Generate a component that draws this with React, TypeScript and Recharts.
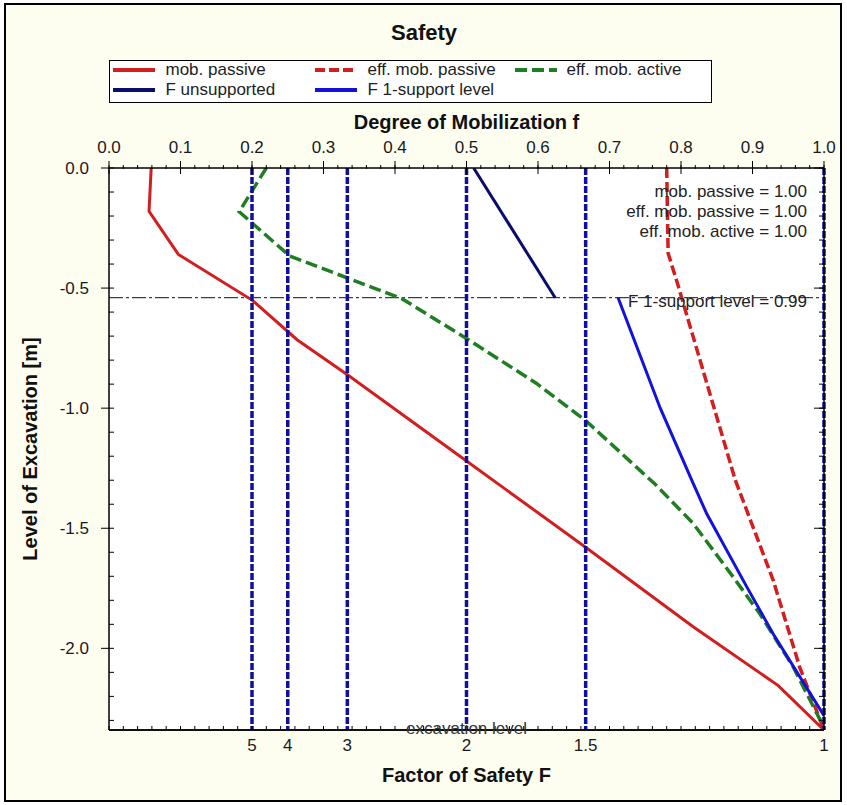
import React from 'react';
import { LineChart, Line, XAxis, YAxis, ReferenceLine, Legend } from 'recharts';

const FONT = '"Liberation Sans", Arial, Helvetica, sans-serif';

// ---- axis tick labels ----
const mobilizationTicks = [0, 0.1, 0.2, 0.3, 0.4, 0.5, 0.6, 0.7, 0.8, 0.9, 1.0];
const levelTicks = [0, -0.5, -1.0, -1.5, -2.0];
const factorTicks = [5, 4, 3, 2, 1.5, 1];

// ---- levels ----
const excavationLevel = -2.34;
const supportLevel = -0.54;
const supportFactor = 0.99;

// ---- text annotations ----
const chartTitle = 'Safety';
const annotations = ['mob. passive = 1.00', 'eff. mob. passive = 1.00', 'eff. mob. active = 1.00'];

// ---- series (f = degree of mobilization, level in m) ----
const seriesNames = ['mob. passive', 'eff. mob. passive', 'eff. mob. active', 'F unsupported', 'F 1-support level'];

const mobPassive = [
  { f: 0.059, level: 0 },
  { f: 0.056, level: -0.18 },
  { f: 0.097, level: -0.36 },
  { f: 0.2, level: -0.55 },
  { f: 0.263, level: -0.715 },
  { f: 0.333, level: -0.86 },
  { f: 0.5, level: -1.22 },
  { f: 0.667, level: -1.58 },
  { f: 0.817, level: -1.91 },
  { f: 0.936, level: -2.155 },
  { f: 1.0, level: -2.34 },
];

const effMobPassive = [
  { f: 0.78, level: 0 },
  { f: 0.782, level: -0.355 },
  { f: 0.795, level: -0.48 },
  { f: 0.876, level: -1.3 },
  { f: 0.929, level: -1.717 },
  { f: 0.966, level: -2.078 },
  { f: 1.0, level: -2.34 },
];

const effMobActive = [
  { f: 0.22, level: 0 },
  { f: 0.182, level: -0.182 },
  { f: 0.253, level: -0.367 },
  { f: 0.409, level: -0.543 },
  { f: 0.5, level: -0.71 },
  { f: 0.598, level: -0.897 },
  { f: 0.666, level: -1.05 },
  { f: 0.765, level: -1.32 },
  { f: 0.817, level: -1.48 },
  { f: 0.873, level: -1.703 },
  { f: 0.91, level: -1.855 },
  { f: 0.957, level: -2.078 },
  { f: 1.0, level: -2.33 },
];

const fUnsupported = [
  { f: 0.51, level: 0 },
  { f: 0.624, level: -0.54 },
];

const f1Support = [
  { f: 0.712, level: -0.54 },
  { f: 0.771, level: -1.0 },
  { f: 0.815, level: -1.3 },
  { f: 0.836, level: -1.44 },
  { f: 0.892, level: -1.744 },
  { f: 0.929, level: -1.94 },
  { f: 1.0, level: -2.28 },
];

// minor tick positions (no labels)
const minorF = Array.from({ length: 51 }, (_, i) => Math.round(i * 2) / 100);
const minorLevel = Array.from({ length: 24 }, (_, i) => -i / 10);
const factorPositions = factorTicks.map((F) => 1 / F);

const factorLabel = (v: number) => {
  const F = factorTicks.find((x) => Math.abs(1 / x - v) < 1e-9);
  return F === undefined ? '' : String(F);
};

const RED = '#d21e1e';
const GREEN = '#1f7d22';
const NAVY = '#0c0c6e';
const BLUE = '#1212dc';
const REFBLUE = '#10109c';

const W = 847;
const H = 805;

const legendCols = [3, 205, 405];
const legendTextCols = [57, 259, 458];
const legendRows = [10, 30];

const renderLegend = (props: any) => {
  const payload: any[] = props.payload || [];
  const items = seriesNames
    .map((n) => payload.find((p) => p.value === n))
    .filter(Boolean);
  return (
    <div
      style={{
        position: 'relative',
        width: 603,
        height: 43,
        boxSizing: 'border-box',
        border: '1.5px solid #000',
        background: '#fff',
        fontFamily: FONT,
      }}
    >
      {items.map((it: any, i: number) => {
        const col = i % 3;
        const row = Math.floor(i / 3);
        const dash = it.payload && it.payload.strokeDasharray;
        return (
          <React.Fragment key={it.value}>
            <svg
              width={44}
              height={8}
              style={{ position: 'absolute', left: legendCols[col] - 1.5, top: legendRows[row] - 4 - 1.5 }}
            >
              <line x1={1} x2={43} y1={4} y2={4} stroke={it.color} strokeWidth={4} strokeDasharray={dash} />
            </svg>
            <div
              style={{
                position: 'absolute',
                left: legendTextCols[col] - 1.5,
                top: legendRows[row] - 10 - 1.5,
                height: 20,
                lineHeight: '20px',
                fontSize: 17,
                color: '#1e1e1e',
                whiteSpace: 'nowrap',
              }}
            >
              {it.value}
            </div>
          </React.Fragment>
        );
      })}
    </div>
  );
};

const tickStyle = { fontSize: 17, fill: '#1a1a1a' };
const axisTitle = { fontSize: 20, fontWeight: 700, fill: '#111' };
const noLabel = () => '';
const tickStroke = { stroke: '#000', strokeWidth: 1 };

export default function App() {
  const fDomain: [number, number] = [0, 1];
  const levelDomain: [number, number] = [excavationLevel, 0];
  return (
    <div
      style={{
        position: 'absolute',
        left: 0,
        top: 0,
        width: W,
        height: H,
        background: '#ffffff',
        fontFamily: FONT,
        overflow: 'hidden',
      }}
    >
      {/* outer frame */}
      <div
        style={{
          position: 'absolute',
          left: 4,
          top: 3,
          width: 838,
          height: 799,
          boxSizing: 'border-box',
          border: '2px solid #000',
          background: '#fdfdf0',
        }}
      />
      {/* plot background */}
      <div style={{ position: 'absolute', left: 109, top: 168, width: 715, height: 562, background: '#ffffff' }} />

      <div style={{ position: 'absolute', left: 0, top: 0 }}>
        <LineChart width={W} height={H} margin={{ top: 108, right: 23, bottom: 0, left: 9 }}>
          {/* top: minor ticks outward (mirrored axis with negative size), major ticks both sides */}
          <XAxis
            xAxisId="topMinor"
            orientation="top"
            mirror
            type="number"
            dataKey="f"
            domain={fDomain}
            allowDataOverflow
            ticks={minorF}
            interval={0}
            height={1}
            tickSize={-4}
            tickMargin={0}
            tickFormatter={noLabel}
            axisLine={false}
            tickLine={tickStroke}
          />
          <XAxis
            xAxisId="topInner"
            orientation="top"
            mirror
            type="number"
            dataKey="f"
            domain={fDomain}
            allowDataOverflow
            ticks={mobilizationTicks}
            interval={0}
            height={1}
            tickSize={6}
            tickMargin={0}
            tickFormatter={noLabel}
            axisLine={false}
            tickLine={tickStroke}
          />
          <XAxis
            xAxisId="top"
            orientation="top"
            type="number"
            dataKey="f"
            domain={fDomain}
            allowDataOverflow
            ticks={mobilizationTicks}
            interval={0}
            height={60}
            tickSize={7}
            tickMargin={8}
            tickFormatter={(v: number) => v.toFixed(1)}
            tick={tickStyle}
            axisLine={{ stroke: '#000', strokeWidth: 1.5 }}
            tickLine={tickStroke}
            label={{ value: 'Degree of Mobilization f', position: 'insideTop', offset: 7, ...axisTitle }}
          />

          {/* bottom */}
          <XAxis
            xAxisId="bottomMinor"
            orientation="bottom"
            mirror
            type="number"
            dataKey="f"
            domain={fDomain}
            allowDataOverflow
            ticks={minorF}
            interval={0}
            height={1}
            tickSize={4}
            tickMargin={0}
            tickFormatter={noLabel}
            axisLine={false}
            tickLine={tickStroke}
          />
          <XAxis
            xAxisId="bottom"
            orientation="bottom"
            type="number"
            dataKey="f"
            domain={fDomain}
            allowDataOverflow
            ticks={factorPositions}
            interval={0}
            height={75}
            tickSize={0}
            tickMargin={9}
            tickFormatter={factorLabel}
            tick={tickStyle}
            tickLine={false}
            axisLine={{ stroke: '#000', strokeWidth: 1.5 }}
            label={{ value: 'Factor of Safety F', position: 'insideTop', offset: 38, ...axisTitle }}
          />

          {/* left */}
          <YAxis
            yAxisId="leftMinor"
            orientation="left"
            mirror
            type="number"
            dataKey="level"
            domain={levelDomain}
            allowDataOverflow
            ticks={minorLevel}
            interval={0}
            width={1}
            tickSize={5}
            tickMargin={0}
            tickFormatter={noLabel}
            axisLine={false}
            tickLine={tickStroke}
          />
          <YAxis
            yAxisId="left"
            orientation="left"
            type="number"
            dataKey="level"
            domain={levelDomain}
            allowDataOverflow
            ticks={levelTicks}
            interval={0}
            width={100}
            tickSize={8}
            tickMargin={12}
            tickFormatter={(v: number) => v.toFixed(1)}
            tick={tickStyle}
            axisLine={{ stroke: '#000', strokeWidth: 1.5 }}
            tickLine={tickStroke}
            label={{ value: 'Level of Excavation [m]', angle: -90, position: 'center', dx: -29, ...axisTitle }}
          />

          {/* right (ticks inward) */}
          <YAxis
            yAxisId="right"
            orientation="right"
            mirror
            type="number"
            dataKey="level"
            domain={levelDomain}
            allowDataOverflow
            ticks={minorLevel}
            interval={0}
            width={1}
            tickSize={5}
            tickMargin={0}
            tickFormatter={noLabel}
            axisLine={{ stroke: '#000', strokeWidth: 1.5 }}
            tickLine={tickStroke}
          />
          <YAxis
            yAxisId="rightMajor"
            orientation="right"
            mirror
            type="number"
            dataKey="level"
            domain={levelDomain}
            allowDataOverflow
            ticks={levelTicks}
            interval={0}
            width={1}
            tickSize={9}
            tickMargin={0}
            tickFormatter={noLabel}
            axisLine={false}
            tickLine={tickStroke}
          />

          <ReferenceLine
            xAxisId="top"
            yAxisId="left"
            y={supportLevel}
            stroke="#111"
            strokeWidth={1}
            strokeDasharray="14 3 3 3"
            label={{
              value: `F 1-support level = ${supportFactor.toFixed(2)}`,
              position: 'insideRight',
              offset: 17,
              dy: 3,
              fontSize: 17,
              fill: '#222',
            }}
          />

          {/* all axes share identical domains and ranges; each series is bound to one pair so every axis has data */}
          <Line xAxisId="top" yAxisId="left" data={mobPassive} dataKey="level" name={seriesNames[0]} type="linear"
            stroke={RED} strokeWidth={3} dot={false} activeDot={false} isAnimationActive={false} />
          <Line xAxisId="topMinor" yAxisId="leftMinor" data={effMobPassive} dataKey="level" name={seriesNames[1]} type="linear"
            stroke={RED} strokeWidth={3.5} strokeDasharray="10 4" dot={false} activeDot={false} isAnimationActive={false} />
          <Line xAxisId="bottom" yAxisId="right" data={effMobActive} dataKey="level" name={seriesNames[2]} type="linear"
            stroke={GREEN} strokeWidth={3.5} strokeDasharray="12 5" dot={false} activeDot={false} isAnimationActive={false} />
          <Line xAxisId="bottomMinor" yAxisId="rightMajor" data={fUnsupported} dataKey="level" name={seriesNames[3]} type="linear"
            stroke={NAVY} strokeWidth={3} dot={false} activeDot={false} isAnimationActive={false} />
          <Line xAxisId="topInner" yAxisId="left" data={f1Support} dataKey="level" name={seriesNames[4]} type="linear"
            stroke={BLUE} strokeWidth={3} dot={false} activeDot={false} isAnimationActive={false} />

          {factorPositions.map((fx, i) => (
            <ReferenceLine
              key={`F${factorTicks[i]}`}
              xAxisId="top"
              yAxisId="left"
              x={fx}
              stroke={REFBLUE}
              strokeWidth={3.5}
              strokeDasharray="7 2"
            />
          ))}

          <ReferenceLine
            xAxisId="top"
            yAxisId="left"
            y={excavationLevel}
            stroke="#000"
            strokeWidth={1.5}
            label={{ value: 'excavation level', position: 'center', dy: -2, fontSize: 17, fill: '#333' }}
          />

          <Legend
            layout="horizontal"
            verticalAlign="middle"
            align="center"
            wrapperStyle={{ left: 109, top: 60, width: 603, height: 43 }}
            content={renderLegend}
          />
        </LineChart>
      </div>

      {/* title and annotations */}
      <svg width={W} height={H} style={{ position: 'absolute', left: 0, top: 0, pointerEvents: 'none' }}>
        <text x={424} y={40} textAnchor="middle" fontSize={22} fontWeight={700} fill="#111" fontFamily={FONT}>
          {chartTitle}
        </text>
        {annotations.map((t, i) => (
          <text key={t} x={807} y={196.5 + i * 20} textAnchor="end" fontSize={17} fill="#222" fontFamily={FONT}>
            {t}
          </text>
        ))}
      </svg>
    </div>
  );
}
